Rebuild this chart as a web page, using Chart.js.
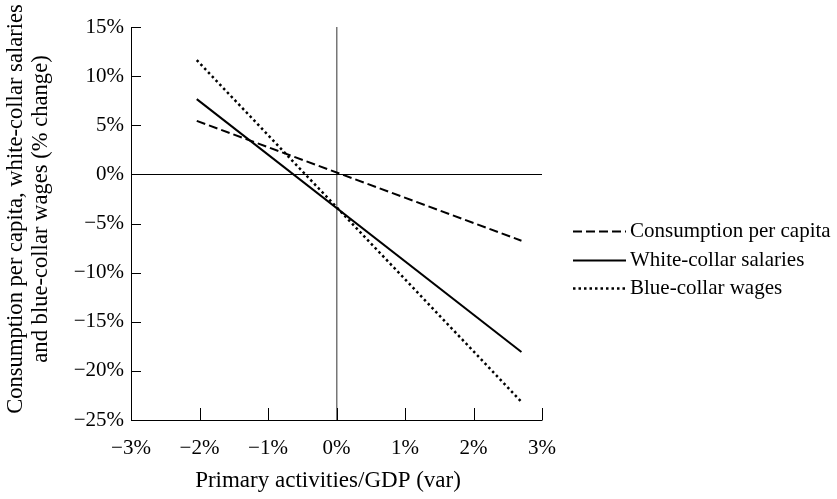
<!DOCTYPE html>
<html>
<head>
<meta charset="utf-8">
<script src="https://cdn.jsdelivr.net/npm/chart.js@4.4.1/dist/chart.umd.min.js"></script>
<style>
  html, body { margin: 0; padding: 0; background: #fff; }
  #wrap { width: 837px; height: 499px; }
</style>
</head>
<body>
<div id="wrap"><canvas id="myChart" width="837" height="499"></canvas></div>
<script>
    "use strict";

    // x = change of primary activities / GDP (%), two end points per line
    var xValues = [-2.04, 2.70];
    var consumption = [5.45, -6.75];
    var whiteCollar = [7.66, -18.08];
    var blueCollar = [11.63, -23.15];

    var seriesNames = ['Consumption per capita', 'White-collar salaries', 'Blue-collar wages'];
    var xTicks = [-3, -2, -1, 0, 1, 2, 3];
    var yTicks = [15, 10, 5, 0, -5, -10, -15, -20, -25];
    var xTitle = 'Primary activities/GDP (var)';
    var yTitle = ['Consumption per capita, white-collar salaries', 'and blue-collar wages (% change)'];

    var serif = "'Liberation Serif', 'Times New Roman', serif";
    Chart.defaults.font.family = serif;
    Chart.defaults.font.size = 21;
    Chart.defaults.color = '#000';

    function pct(v) {
        return (v < 0 ? '\u2212' : '') + Math.abs(v) + '%';
    }

    function points(ys) {
        return xValues.map(function (x, i) { return { x: x, y: ys[i] }; });
    }

    // inner tick marks, axis titles and the line legend on the right
    var extras = {
        id: 'extras',
        afterDraw: function (chart) {
            var ctx = chart.ctx;
            var area = chart.chartArea;
            var xs = chart.scales.x, ys = chart.scales.y;
            ctx.save();
            ctx.strokeStyle = '#000';
            ctx.lineWidth = 1;
            ctx.beginPath();
            xTicks.forEach(function (v) {
                var px = Math.round(xs.getPixelForValue(v)) + 0.5;
                ctx.moveTo(px, area.bottom);
                ctx.lineTo(px, area.bottom - 12);
            });
            yTicks.forEach(function (v) {
                var py = Math.round(ys.getPixelForValue(v)) + 0.5;
                ctx.moveTo(area.left, py);
                ctx.lineTo(area.left + 10, py);
            });
            ctx.stroke();

            ctx.fillStyle = '#000';
            ctx.textBaseline = 'middle';
            ctx.textAlign = 'center';
            ctx.font = '23px ' + serif;
            ctx.fillText(xTitle, area.left + 197, area.bottom + 61);

            ctx.font = '22.6px ' + serif;
            ctx.save();
            ctx.translate(16, area.top + 182);
            ctx.rotate(-Math.PI / 2);
            yTitle.forEach(function (line, i) {
                ctx.fillText(line, 0, i * 25);
            });
            ctx.restore();

            ctx.font = '21px ' + serif;
            ctx.textAlign = 'left';
            chart.data.datasets.forEach(function (ds, i) {
                var y = Math.round(area.top + 204 + i * 28.5) + 0.5;
                ctx.save();
                ctx.strokeStyle = ds.borderColor;
                ctx.lineWidth = ds.borderWidth;
                ctx.setLineDash(ds.borderDash || []);
                ctx.beginPath();
                ctx.moveTo(area.right + 31, y);
                ctx.lineTo(area.right + 84, y);
                ctx.stroke();
                ctx.restore();
                ctx.fillText(ds.label, area.right + 88, y);
            });
            ctx.restore();
        }
    };

    var ctx = document.getElementById('myChart').getContext('2d');
    var chart = new Chart(ctx, {
        type: 'line',
        data: {
            datasets: [{
                label: seriesNames[0],
                data: points(consumption),
                borderColor: '#000',
                borderWidth: 2,
                borderDash: [9, 4],
                pointRadius: 0
            },
            {
                label: seriesNames[1],
                data: points(whiteCollar),
                borderColor: '#000',
                borderWidth: 2,
                pointRadius: 0
            },
            {
                label: seriesNames[2],
                data: points(blueCollar),
                borderColor: '#000',
                borderWidth: 2.5,
                borderDash: [2.5, 3],
                pointRadius: 0
            }]
        },
        options: {
            responsive: false,
            animation: false,
            layout: { padding: { top: 27, right: 295, left: 0, bottom: 0 } },
            plugins: {
                legend: { display: false },
                tooltip: { enabled: false }
            },
            scales: {
                x: {
                    type: 'linear',
                    min: -3,
                    max: 3,
                    afterFit: function (s) { s.height = 79; },
                    afterBuildTicks: function (s) {
                        s.ticks = xTicks.map(function (v) { return { value: v }; });
                    },
                    ticks: {
                        padding: 16,
                        maxRotation: 0,
                        callback: pct
                    },
                    grid: {
                        drawTicks: false,
                        color: function (c) {
                            return c.tick && c.tick.value === 0 ? '#777' : 'rgba(0,0,0,0)';
                        },
                        lineWidth: 1.5
                    },
                    border: { color: '#000', width: 1 }
                },
                y: {
                    min: -25,
                    max: 15,
                    afterFit: function (s) { s.width = 131; },
                    afterBuildTicks: function (s) {
                        s.ticks = yTicks.map(function (v) { return { value: v }; });
                    },
                    ticks: {
                        padding: 7,
                        callback: pct
                    },
                    grid: {
                        drawTicks: false,
                        color: function (c) {
                            return c.tick && c.tick.value === 0 ? '#000' : 'rgba(0,0,0,0)';
                        },
                        lineWidth: 1
                    },
                    border: { color: '#000', width: 1 }
                }
            }
        },
        plugins: [extras]
    });
</script>
</body>
</html>
